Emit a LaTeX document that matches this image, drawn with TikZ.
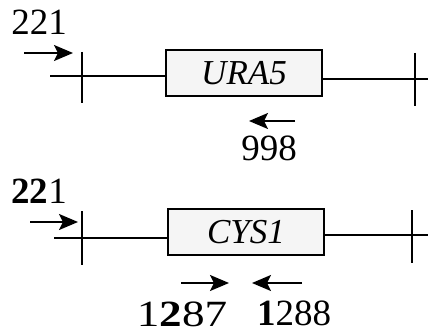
\documentclass[tikz,border=0pt]{standalone}
\usepackage{fontspec}
\setmainfont{Liberation Serif}
\usetikzlibrary{arrows.meta}
\begin{document}
\begin{tikzpicture}[x=1pt,y=-1pt,
  ln/.style={line width=2pt},
  arr/.style={line width=2pt,-{Stealth[length=19pt,width=16pt,inset=4pt]}},
  gene/.style={draw,line width=2pt,fill=gray!8,minimum width=156pt,minimum height=46pt,inner sep=0pt,font=\fontsize{35}{35}\selectfont\itshape},
  lbl/.style={font=\fontsize{37}{37}\selectfont,inner sep=0pt}]
\useasboundingbox (0,0) rectangle (428,334);
% top row
\node[gene] (b1) at (244,73) {URA5};
\coordinate (l1a) at (50,76); \coordinate (r1b) at (428,79);
\coordinate (t1a) at (82,52); \coordinate (t1b) at (82,103);
\coordinate (t2a) at (415,53); \coordinate (t2b) at (415,106);
\draw[ln] (l1a) -- (b1.west|-l1a);
\draw[ln] (b1.east|-r1b) -- (r1b);
\draw[ln] (t1a) -- (t1b);
\draw[ln] (t2a) -- (t2b);
\node[lbl] (n221a) at (39,22) {221};
\coordinate (a1s) at (24,53); \coordinate (a1e) at (73,53);
\draw[arr] (a1s) -- (a1e);
\coordinate (a2s) at (295,121); \coordinate (a2e) at (249,121);
\draw[arr] (a2s) -- (a2e);
\node[lbl] (n998) at (269,148) {998};
% bottom row
\node[gene] (b2) at (246,232) {CYS1};
\coordinate (l2a) at (54,238); \coordinate (r2b) at (428,235);
\coordinate (t3a) at (82,211); \coordinate (t3b) at (82,265);
\coordinate (t4a) at (412,210); \coordinate (t4b) at (412,263);
\draw[ln] (l2a) -- (b2.west|-l2a);
\draw[ln] (b2.east|-r2b) -- (r2b);
\draw[ln] (t3a) -- (t3b);
\draw[ln] (t4a) -- (t4b);
\node[lbl] (n221b) at (39,191) {\textbf{22}1};
\coordinate (a3s) at (30,222); \coordinate (a3e) at (78,222);
\draw[arr] (a3s) -- (a3e);
\coordinate (a4s) at (181,283); \coordinate (a4e) at (229,283);
\draw[arr] (a4s) -- (a4e);
\coordinate (a5s) at (302,283); \coordinate (a5e) at (252,283);
\draw[arr] (a5s) -- (a5e);
\node[lbl,xscale=1.22] (n1287) at (182,314) {1\textbf{2}87};
\node[lbl] (n1288) at (294,313) {\textbf{1}288};
\end{tikzpicture}
\end{document}
